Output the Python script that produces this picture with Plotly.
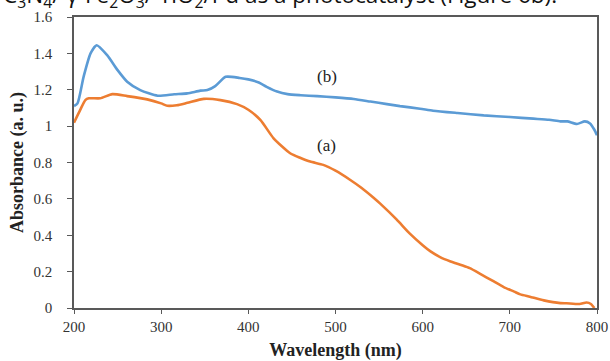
import plotly.graph_objects as go

# Absorbance spectra, sample (a) and sample (b)
wavelength_a = [200, 207, 213, 217, 230, 244, 261, 284, 300, 307, 318, 330, 349, 368,
                387, 400, 414, 429, 448, 460, 471, 486, 500, 517, 530, 544, 551, 570,
                585, 600, 609, 620, 632, 645, 654, 666, 680, 693, 705, 712, 723, 739,
                758, 765, 780, 788, 793, 797]
absorbance_a = [1.019, 1.088, 1.143, 1.153, 1.153, 1.176, 1.165, 1.147, 1.125, 1.112, 1.115, 1.128,
                1.150, 1.143, 1.121, 1.090, 1.033, 0.933, 0.851, 0.825, 0.805, 0.787, 0.755, 0.704,
                0.660, 0.605, 0.575, 0.487, 0.410, 0.345, 0.311, 0.280, 0.256, 0.235, 0.219, 0.188,
                0.150, 0.115, 0.090, 0.075, 0.062, 0.042, 0.027, 0.026, 0.022, 0.030, 0.022, 0.0]

wavelength_b = [200, 204, 211, 219, 226, 238, 250, 261, 276, 296, 315, 330, 345, 353,
                362, 374, 390, 400, 412, 421, 433, 445, 460, 479, 500, 521, 540, 559,
                574, 597, 612, 640, 670, 700, 727, 745, 758, 766, 777, 786, 792, 797, 800]
absorbance_b = [1.110, 1.125, 1.271, 1.400, 1.445, 1.390, 1.308, 1.244, 1.198, 1.167, 1.175, 1.180,
                1.195, 1.198, 1.220, 1.271, 1.265, 1.257, 1.240, 1.216, 1.190, 1.176, 1.170, 1.165,
                1.158, 1.149, 1.135, 1.121, 1.110, 1.096, 1.085, 1.072, 1.059, 1.050, 1.041, 1.035,
                1.026, 1.026, 1.012, 1.026, 1.015, 0.980, 0.950]

x_ticks = [200, 300, 400, 500, 600, 700, 800]
y_ticks = [0, 0.2, 0.4, 0.6, 0.8, 1.0, 1.2, 1.4, 1.6]
y_tick_text = ["0", "0.2", "0.4", "0.6", "0.8", "1", "1.2", "1.4", "1.6"]

series_labels = ["(a)", "(b)"]
label_x = [490, 490]
label_y = [0.896, 1.272]

caption = ("C<sub>3</sub>N<sub>4</sub>/ γ-Fe<sub>2</sub>O<sub>3</sub>/ TiO<sub>2</sub>/Pd "
           "as a photocatalyst (Figure 6b).")

serif = "Liberation Serif, Times New Roman, serif"
axis_color = "#595959"

fig = go.Figure()
fig.add_trace(go.Scatter(x=wavelength_b, y=absorbance_b, mode="lines",
                         line=dict(color="#5B9BD5", width=2.6, shape="spline", smoothing=0.6),
                         showlegend=False, hoverinfo="skip"))
fig.add_trace(go.Scatter(x=wavelength_a, y=absorbance_a, mode="lines",
                         line=dict(color="#ED7D31", width=2.6, shape="spline", smoothing=0.6),
                         showlegend=False, hoverinfo="skip"))

for txt, lx, ly in zip(series_labels, label_x, label_y):
    fig.add_annotation(x=lx, y=ly, text=txt, showarrow=False,
                       font=dict(family=serif, size=17, color="#222222"))

# caption line of the surrounding page, partly cut off at the top edge
fig.add_annotation(xref="paper", yref="paper", x=(0 - 73.5) / 523.5, y=1.0,
                   xanchor="left", yanchor="bottom", yshift=2,
                   text=caption, showarrow=False,
                   font=dict(family="Open Sans, Liberation Sans, sans-serif", size=22.5,
                             color="#111111"))

fig.update_xaxes(range=[200, 800], tickvals=x_ticks, showgrid=False, zeroline=False,
                 automargin=False,
                 showline=True, linecolor=axis_color, linewidth=1.5, mirror=True,
                 ticks="outside", ticklen=4, tickcolor=axis_color, tickwidth=1.2,
                 tickfont=dict(family=serif, size=15, color="#333333"),
                 title=dict(text="<b>Wavelength (nm)</b>", standoff=11,
                            font=dict(family=serif, size=18, color="#222222")))
fig.update_yaxes(range=[0, 1.6], tickvals=y_ticks, ticktext=y_tick_text, showgrid=False,
                 automargin=False,
                 zeroline=False, showline=True, linecolor=axis_color, linewidth=1.5, mirror=True,
                 ticks="outside", ticklen=5, tickcolor=axis_color, tickwidth=1.2,
                 ticklabelstandoff=12,
                 tickfont=dict(family=serif, size=15, color="#333333"),
                 title=dict(text="<b>Absorbance (a. u.)</b>", standoff=5,
                            font=dict(family=serif, size=18, color="#222222")))

fig.update_layout(width=610, height=361, paper_bgcolor="white", plot_bgcolor="white",
                  margin=dict(l=73.5, r=13, t=17, b=52.7))

fig.write_html("out.html")
